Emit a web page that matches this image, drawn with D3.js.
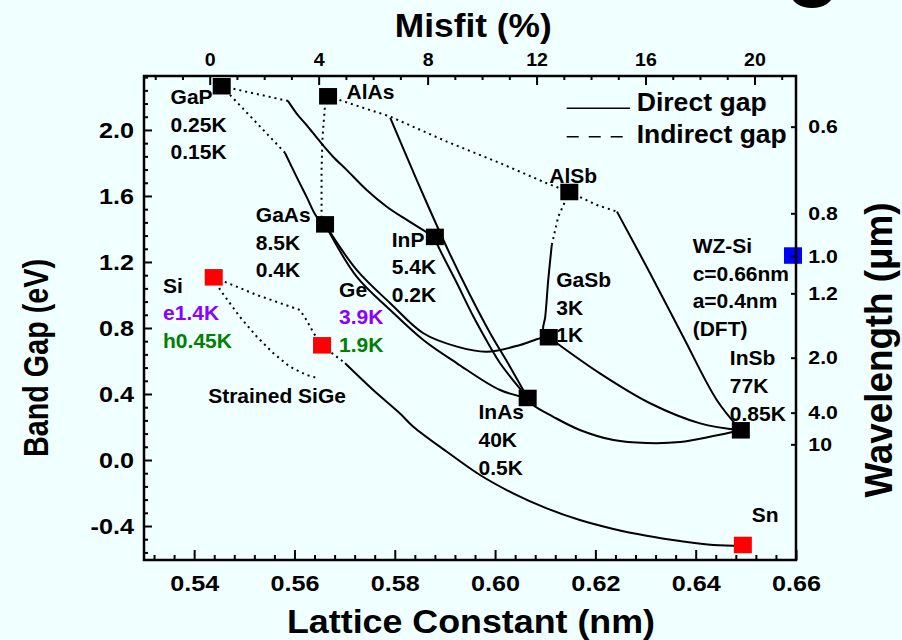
<!DOCTYPE html>
<html><head><meta charset="utf-8">
<script src="https://cdn.jsdelivr.net/npm/d3@7"></script>
<style>
html,body{margin:0;padding:0;background:#F0FFFF;}
svg{display:block;}
text{font-family:"Liberation Sans",Arial,sans-serif;font-weight:bold;}
</style></head><body>
<svg id="chart" width="902" height="640"></svg>
<script>
// ---------------- data (lattice constant in nm, band gap in eV) ----------------
const binaryNames = ["GaP","AlAs","GaAs","InP","AlSb","GaSb","InAs","InSb"];
const binaryA = [0.5455,0.5667,0.5661,0.5880,0.6148,0.6107,0.6065,0.6490];
const binaryE = [2.265,2.204,1.428,1.352,1.624,0.744,0.376,0.180];

const groupIVNames = ["Si","Ge","Sn"];
const groupIVA = [0.5439,0.5655,0.6494];
const groupIVE = [1.107,0.695,-0.515];

const wzSiA = [0.6594];
const wzSiE = [1.239];

// direct-gap (solid) alloy curves
const gaInPDirect = [[0.5587,2.176],[0.5604,2.101],[0.5624,2.030],[0.5651,1.929],[0.5677,1.838],[0.5704,1.758],[0.5744,1.636],[0.5784,1.535],[0.5824,1.455],[0.5864,1.380],[0.5880,1.352]];
const gaAsPDirect = [[0.5581,1.862],[0.5604,1.717],[0.5624,1.596],[0.5644,1.475],[0.5661,1.428]];
const alInAsDirect = [[0.5791,2.073],[0.5830,1.794],[0.5870,1.515],[0.5910,1.248],[0.5950,1.000],[0.5990,0.770],[0.6030,0.564],[0.6065,0.376]];
const inAsPDirect = [[0.5880,1.352],[0.5884,1.313],[0.5924,1.071],[0.5957,0.868],[0.5990,0.687],[0.6010,0.586],[0.6065,0.376]];
const inGaAsDirect = [[0.5661,1.428],[0.5724,1.111],[0.5791,0.909],[0.5857,0.727],[0.5924,0.586],[0.6010,0.424],[0.6065,0.376]];
const gaAsSbDirect = [[0.5661,1.428],[0.5724,1.152],[0.5791,0.950],[0.5857,0.768],[0.5924,0.687],[0.5983,0.656],[0.6050,0.697],[0.6090,0.738],[0.6107,0.744]];
const alGaSbDirect = [[0.6113,1.303],[0.6106,1.091],[0.6100,0.868],[0.6096,0.788],[0.6107,0.744]];
const alInSbDirect = [[0.6243,1.505],[0.6309,1.132],[0.6375,0.747],[0.6442,0.364],[0.6490,0.180]];
const inGaSbDirect = [[0.6107,0.744],[0.6209,0.525],[0.6309,0.344],[0.6409,0.222],[0.6490,0.180]];
const inAsSbDirect = [[0.6065,0.376],[0.6076,0.333],[0.6116,0.262],[0.6169,0.182],[0.6236,0.121],[0.6302,0.103],[0.6369,0.109],[0.6435,0.145],[0.6490,0.180]];
const geSnDirect = [[0.5701,0.586],[0.5757,0.424],[0.5810,0.283],[0.5837,0.202],[0.5904,0.050],[0.5970,-0.091],[0.6036,-0.202],[0.6103,-0.293],[0.6169,-0.364],[0.6236,-0.418],[0.6302,-0.459],[0.6369,-0.491],[0.6435,-0.515],[0.6494,-0.520]];

// indirect-gap (dotted) alloy curves
const gaInPIndirect = [[0.5455,2.265],[0.5587,2.176]];
const gaAsPIndirect = [[0.5455,2.265],[0.5581,1.862]];
const alGaAsIndirect = [[0.5667,2.204],[0.5661,2.152],[0.5656,1.959],[0.5654,1.758],[0.5654,1.475],[0.5661,1.428]];
const alAsSbIndirect = [[0.5667,2.204],[0.5791,2.081],[0.5904,1.929],[0.6003,1.808],[0.6103,1.677],[0.6148,1.624]];
const alGaSbIndirect = [[0.6148,1.624],[0.6126,1.475],[0.6113,1.303]];
const alInSbIndirect = [[0.6148,1.624],[0.6203,1.545],[0.6243,1.505]];
const siGeIndirect = [[0.5439,1.107],[0.5525,1.000],[0.5611,0.909],[0.5624,0.848],[0.5638,0.770],[0.5655,0.695]];
const strainedSiGe = [[0.5439,1.107],[0.5452,1.030],[0.5491,0.868],[0.5525,0.747],[0.5558,0.647],[0.5591,0.565],[0.5624,0.515],[0.5648,0.495]];
const geSnIndirect = [[0.5655,0.695],[0.5701,0.586]];

const directLines = [gaInPDirect,gaAsPDirect,alInAsDirect,inAsPDirect,inGaAsDirect,gaAsSbDirect,alGaSbDirect,alInSbDirect,inGaSbDirect,inAsSbDirect,geSnDirect];
const indirectLines = [gaInPIndirect,gaAsPIndirect,alGaAsIndirect,alAsSbIndirect,alGaSbIndirect,alInSbIndirect,siGeIndirect,strainedSiGe,geSnIndirect];

// annotation texts, anchored (first line, left/baseline) in data coordinates
const labelLines = [["GaP","0.25K","0.15K"],["AlAs"],["GaAs","8.5K","0.4K"],["InP","5.4K","0.2K"],
  ["Si","e1.4K","h0.45K"],["Ge","3.9K","1.9K"],["Strained SiGe"],["AlSb"],["GaSb","3K","1K"],
  ["WZ-Si","c=0.66nm","a=0.4nm","(DFT)"],["InSb","77K","0.85K"],["InAs","40K","0.5K"],["Sn"]];
const labelA = [0.5353,0.5704,0.5523,0.5794,0.5338,0.5689,0.5428,0.6108,0.6122,0.6394,0.6468,0.5967,0.6512];
const labelE = [2.158,2.186,1.444,1.293,1.014,0.990,0.344,1.677,1.050,1.256,0.576,0.247,-0.374];

// axis ticks
const latticeTicks = [0.54,0.56,0.58,0.60,0.62,0.64,0.66];
const gapTicks = [-0.4,0.0,0.4,0.8,1.2,1.6,2.0];
const misfitTicks = [0,4,8,12,16,20];
const wavelengthLabels = ["0.6","0.8","1.0","1.2","2.0","4.0","10"];
const wavelengthTickE = [2.02,1.495,1.236,1.01,0.62,0.287,0.095];
const siLattice = 0.5431;

// ---------------- drawing ----------------
const svg = d3.select("#chart");
svg.append("rect").attr("width",902).attr("height",640).attr("fill","#F0FFFF");

// partial glyph cut off at the top edge of the source slide
svg.append("ellipse").attr("cx",812).attr("cy",-6).attr("rx",21).attr("ry",14).attr("fill","#000");

const L=144,R=796,T=76,B=560;
const x = d3.scaleLinear().domain([0.53,0.66]).range([L,R]);
const y = d3.scaleLinear().domain([-0.606,2.327]).range([B,T]);
const misfit = a => (a/siLattice-1)*100;
const xTop = d3.scaleLinear().domain([misfit(0.53),misfit(0.66)]).range([L,R]);

const smooth = d3.line().x(d=>x(d[0])).y(d=>y(d[1])).curve(d3.curveCatmullRom.alpha(0.5));
const straight = d3.line().x(d=>x(d[0])).y(d=>y(d[1]));

svg.append("g").selectAll("path").data(indirectLines).join("path")
  .attr("d",straight).attr("fill","none").attr("stroke","#000")
  .attr("stroke-width",2).attr("stroke-dasharray","2,4");
svg.append("g").selectAll("path").data(directLines).join("path")
  .attr("d",smooth).attr("fill","none").attr("stroke","#000").attr("stroke-width",2);

// labels
const specialColor = {"e1.4K":"#8B00FF","3.9K":"#8B00FF","h0.45K":"#008000","1.9K":"#008000"};
const lineGap = 27.8;
const lab = svg.append("g").attr("font-size",21);
labelLines.forEach((lines,i)=>{
  lines.forEach((t,j)=>{
    lab.append("text").attr("x",x(labelA[i])).attr("y",y(labelE[i])+j*lineGap)
      .attr("fill",specialColor[t]||"#000").text(t);
  });
});

// markers
const mw=18, mh=16.5;
function markers(A,E,color){
  svg.append("g").selectAll("rect").data(A).join("rect")
    .attr("x",(d)=>x(d)-mw/2).attr("y",(d,i)=>y(E[i])-mh/2)
    .attr("width",mw).attr("height",mh).attr("fill",color);
}
markers(binaryA,binaryE,"#000");
markers(groupIVA,groupIVE,"#FF0000");
markers(wzSiA,wzSiE,"#0000FF");

// legend
svg.append("line").attr("x1",566.7).attr("x2",630).attr("y1",108.3).attr("y2",108.3).attr("stroke","#000").attr("stroke-width",1.5);
svg.append("line").attr("x1",566.7).attr("x2",630).attr("y1",136.7).attr("y2",136.7).attr("stroke","#000").attr("stroke-width",1.5).attr("stroke-dasharray","12,10");
svg.append("text").attr("x",636.7).attr("y",111).attr("font-size",26).attr("textLength",130).attr("lengthAdjust","spacingAndGlyphs").text("Direct gap");
svg.append("text").attr("x",636.7).attr("y",142.5).attr("font-size",26).attr("textLength",150).attr("lengthAdjust","spacingAndGlyphs").text("Indirect gap");

// axes
function styleAxis(g,fs,sx){
  g.select(".domain").remove();
  g.selectAll(".tick line").attr("stroke","#000").attr("stroke-width",2);
  g.selectAll(".tick text").attr("fill","#000").attr("font-size",fs)
    .attr("font-family",'"Liberation Sans",Arial,sans-serif').attr("font-weight","bold")
    .attr("transform",`scale(${sx},1)`);
}
const near = (v,arr)=>arr.some(t=>Math.abs(t-v)<1e-6);
const bottomMinor = d3.range(0.532,0.6601,0.004).filter(v=>!near(Math.round(v*1000)/1000,latticeTicks));
svg.append("g").attr("transform",`translate(0,${B})`)
  .call(d3.axisBottom(x).tickValues(bottomMinor).tickSizeInner(-5).tickSizeOuter(0).tickFormat(""))
  .call(g=>styleAxis(g,0,1));
svg.append("g").attr("transform",`translate(0,${B})`)
  .call(d3.axisBottom(x).tickValues(latticeTicks).tickFormat(d=>d.toFixed(2)).tickSizeInner(-10).tickSizeOuter(0).tickPadding(15))
  .call(g=>styleAxis(g,22.5,1.12));

const leftMinor = d3.range(-0.56,2.33,0.08).map(v=>Math.round(v*100)/100).filter(v=>!near(v,gapTicks));
svg.append("g").attr("transform",`translate(${L},0)`)
  .call(d3.axisLeft(y).tickValues(leftMinor).tickSizeInner(-4).tickSizeOuter(0).tickFormat(""))
  .call(g=>styleAxis(g,0,1));
svg.append("g").attr("transform",`translate(${L},0)`)
  .call(d3.axisLeft(y).tickValues(gapTicks).tickFormat(d=>d.toFixed(1)).tickSizeInner(-8).tickSizeOuter(0).tickPadding(9))
  .call(g=>styleAxis(g,22.5,1.12));

const topMinor = d3.range(-2,22,1).filter(v=>!near(v,misfitTicks));
svg.append("g").attr("transform",`translate(0,${T})`)
  .call(d3.axisTop(xTop).tickValues(topMinor).tickSizeInner(-4).tickSizeOuter(0).tickFormat(""))
  .call(g=>styleAxis(g,0,1));
svg.append("g").attr("transform",`translate(0,${T})`)
  .call(d3.axisTop(xTop).tickValues(misfitTicks).tickFormat(d=>String(d)).tickSizeInner(-9).tickSizeOuter(0).tickPadding(10))
  .call(g=>styleAxis(g,17.5,1.12));

svg.append("g").attr("transform",`translate(${R},0)`)
  .call(d3.axisRight(y).tickValues(wavelengthTickE).tickFormat((d,i)=>wavelengthLabels[i]).tickSizeInner(-5).tickSizeOuter(0).tickPadding(11))
  .call(g=>styleAxis(g,19,1.12));

// frame
svg.append("rect").attr("x",L).attr("y",T).attr("width",R-L).attr("height",B-T)
  .attr("fill","none").attr("stroke","#000").attr("stroke-width",2.5);

// titles
svg.append("text").attr("x",473.3).attr("y",37.3).attr("text-anchor","middle").attr("font-size",33)
  .attr("textLength",157).attr("lengthAdjust","spacingAndGlyphs").text("Misfit (%)");
svg.append("text").attr("x",471).attr("y",633.3).attr("text-anchor","middle").attr("font-size",33)
  .attr("textLength",368).attr("lengthAdjust","spacingAndGlyphs").text("Lattice Constant (nm)");
svg.append("text").attr("transform","translate(48,358) rotate(-90)").attr("text-anchor","middle").attr("font-size",35)
  .attr("textLength",198).attr("lengthAdjust","spacingAndGlyphs").text("Band Gap (eV)");
svg.append("text").attr("transform","translate(892,350) rotate(-90)").attr("text-anchor","middle").attr("font-size",39)
  .attr("textLength",295).attr("lengthAdjust","spacingAndGlyphs").text("Wavelength (\u03bcm)");
</script>
</body></html>
